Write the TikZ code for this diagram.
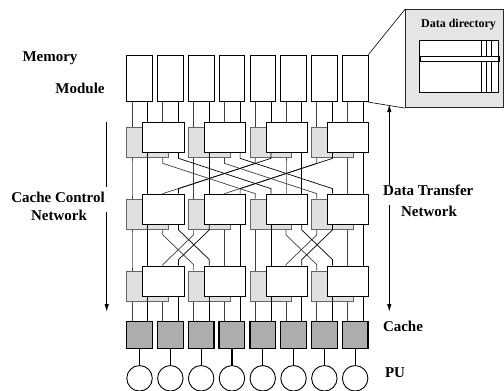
\documentclass[tikz,border=0pt]{standalone}
\usepackage{fontspec}
\setmainfont{Liberation Serif}
\usetikzlibrary{arrows.meta,calc}
\pgfdeclarelayer{bg}
\pgfsetlayers{bg,main}
\begin{document}
\begin{tikzpicture}[x=1pt,y=-1pt,
  mem/.style={draw=black,fill=white,line width=0.8pt,minimum width=25.7pt,minimum height=46.7pt,inner sep=0pt},
  gbox/.style={draw=black!60,fill=black!12,line width=0.7pt,minimum width=41.6pt,minimum height=30pt,inner sep=0pt},
  wbox/.style={draw=black,fill=white,line width=0.7pt,minimum width=41.3pt,minimum height=30pt,inner sep=0pt},
  cbox/.style={draw=black,fill=black!32,line width=1.3pt,minimum width=25.7pt,minimum height=26.6pt,inner sep=0pt},
  pu/.style={draw=black,fill=white,circle,line width=0.9pt,minimum size=25.5pt,inner sep=0pt},
  cline/.style={black!75,line width=0.7pt},
  dline/.style={black,line width=0.7pt},
  lbl/.style={font=\fontsize{15}{17}\selectfont\bfseries,inner sep=0pt},
  arr/.style={line width=1.1pt},
  tip/.style={-{Latex[length=8pt,width=4.5pt]}}
]
\useasboundingbox (0,0) rectangle (504,391);

% columns: memory, cache, PU
\foreach \i in {0,...,7} {
  \pgfmathsetmacro\L{126.7+30.8*\i}
  \node[mem] (m\i) at (\L+12.85,78.35) {};
  \coordinate (xc\i) at (\L+5.3,0);
  \coordinate (xd\i) at (\L+21,0);
  \node[cbox] (c\i) at (\L+12.85,335) {};
  \node[pu] (p\i) at (\L+12.85,378.3) {};
  \draw[line width=1.1pt] (c\i.south) -- (p\i.north);
}

% switches
\foreach \s/\wy in {1/137.5,2/209,3/281} {
  \foreach \k in {0,...,3} {
    \pgfmathsetmacro\L{126.7+61.6*\k}
    \node[gbox] (g\s\k) at (\L+20.8,\wy+5) {};
    \node[wbox] (w\s\k) at (\L+36.65,\wy) {};
  }
}

% control lines (behind the boxes)
\begin{pgfonlayer}{bg}
\foreach \i in {0,...,7} {
  \pgfmathtruncatemacro\k{\i/2}
  \draw[cline] (xc\i |- m\i.south) -- (xc\i |- g1\k.north);
  \draw[cline] (xc\i |- g3\k.south) -- (xc\i |- c\i.north);
}
\foreach \i/\j in {0/0,1/4,2/2,3/6,4/1,5/5,6/3,7/7} {
  \pgfmathtruncatemacro\k{\i/2}
  \pgfmathtruncatemacro\kk{\j/2}
  \draw[cline] (xc\i |- g1\k.south) -- ++(0,5.5) -- ($(xc\j |- g2\kk.north)+(0,-5)$) -- (xc\j |- g2\kk.north);
}
\foreach \i/\j in {0/0,1/2,2/1,3/3,4/4,5/6,6/5,7/7} {
  \pgfmathtruncatemacro\k{\i/2}
  \pgfmathtruncatemacro\kk{\j/2}
  \draw[cline] (xc\i |- g2\k.south) -- ++(0,5.5) -- ($(xc\j |- g3\kk.north)+(0,-6)$) -- (xc\j |- g3\kk.north);
}
\end{pgfonlayer}

% data lines (in front)
\foreach \i in {0,...,7} {
  \pgfmathtruncatemacro\k{\i/2}
  \draw[dline] (xd\i |- m\i.south) -- (xd\i |- w1\k.north);
  \draw[dline] (xd\i |- w3\k.south) -- (xd\i |- c\i.north);
}
\foreach \i/\j in {0/0,1/4,2/2,3/6,4/1,5/5,6/3,7/7} {
  \pgfmathtruncatemacro\k{\i/2}
  \pgfmathtruncatemacro\kk{\j/2}
  \draw[dline] (xd\i |- w1\k.south) -- ++(0,5.5) -- ($(xd\j |- w2\kk.north)+(0,-5)$) -- (xd\j |- w2\kk.north);
}
\foreach \i/\j in {0/0,1/2,2/1,3/3,4/4,5/6,6/5,7/7} {
  \pgfmathtruncatemacro\k{\i/2}
  \pgfmathtruncatemacro\kk{\j/2}
  \draw[dline] (xd\i |- w2\k.south) -- ++(0,5.5) -- ($(xd\j |- w3\kk.north)+(0,-6)$) -- (xd\j |- w3\kk.north);
}

% callout with data directory
\node[draw=black!85,fill=black!10,line width=0.8pt,minimum width=98pt,minimum height=98pt,anchor=north west,inner sep=0pt] (dd) at (405,9.3) {};
\draw[line width=0.6pt] (m7.north east) -- (dd.north west);
\draw[line width=0.6pt] (m7.south east) -- (dd.south west);
\node[font=\fontsize{12}{14}\selectfont\bfseries,inner sep=0pt] (ddt) at (458.5,25) {Data directory};
\node[draw,fill=white,line width=0.7pt,anchor=north west,minimum width=78.2pt,minimum height=52pt,inner sep=0pt] (dr) at (419.3,40) {};
\foreach \o in {62,67.2,72.4} {
  \draw[line width=0.5pt] ($(dr.north west)+(\o,0)$) -- ($(dr.south west)+(\o,0)$);
}
\node[draw,fill=white,line width=1.3pt,anchor=north west,minimum width=79pt,minimum height=5pt,inner sep=0pt] (bar) at (419.3,55.5) {};

% labels
\node[lbl] (memL) at (50,58.3) {Memory};
\node[lbl] (modL) at (80,88.3) {Module};
\node[lbl] (ccL) at (58,197) {Cache Control};
\node[lbl] (ccN) at (59,215) {Network};
\node[lbl] (dtL) at (428.3,190) {Data Transfer};
\node[lbl] (dtN) at (429,211.7) {Network};
\node[lbl] (cacheL) at (403,326.7) {Cache};
\node[lbl] (puL) at (395,373) {PU};

% arrows
\coordinate (la1) at (106.7,121.7);
\coordinate (la2) at (106.7,186.7);
\coordinate (la3) at (106.7,211.7);
\coordinate (la4) at (106.7,312);
\draw[arr] (la1) -- (la2);
\draw[arr,tip] (la3) -- (la4);
\coordinate (ra1) at (389.3,104);
\coordinate (ra2) at (389.3,185);
\coordinate (ra3) at (389.3,205);
\coordinate (ra4) at (389.3,312);
\draw[arr,tip] (ra2) -- (ra1);
\draw[arr,tip] (ra3) -- (ra4);
\end{tikzpicture}
\end{document}
